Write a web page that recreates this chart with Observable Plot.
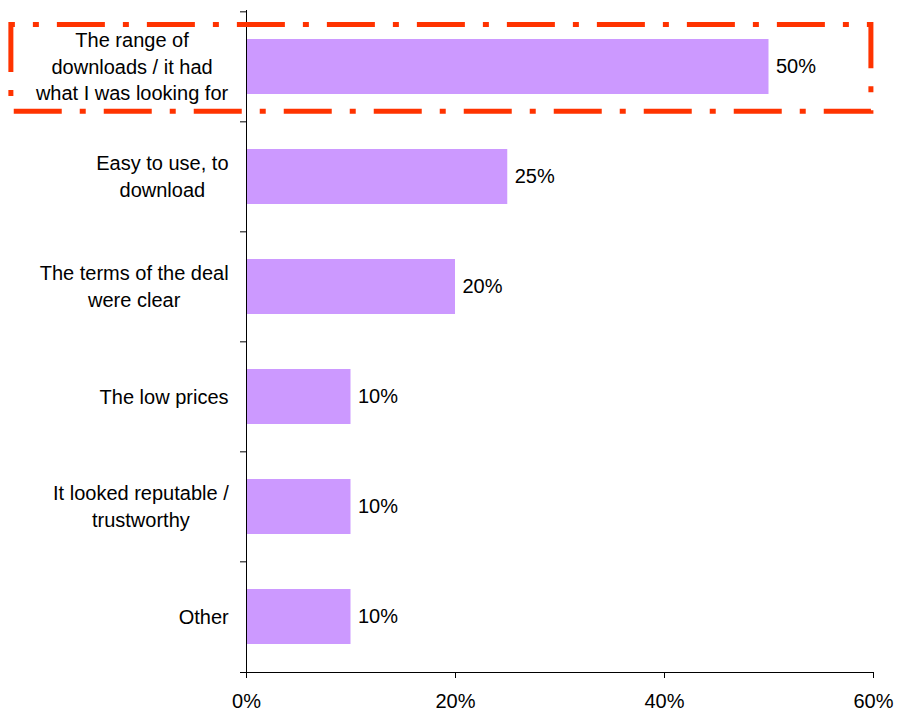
<!DOCTYPE html>
<html><head><meta charset="utf-8">
<script src="https://cdn.jsdelivr.net/npm/d3@7"></script>
<script src="https://cdn.jsdelivr.net/npm/@observablehq/plot@0.6"></script>
<style>body{margin:0;background:#fff;}</style>
</head><body><div id="chart"></div>
<script>
const categories = ["The range of downloads / it had what I was looking for", "Easy to use, to download", "The terms of the deal were clear", "The low prices", "It looked reputable / trustworthy", "Other"];
const labels = ["The range of\ndownloads / it had\nwhat I was looking for", "Easy to use, to\ndownload", "The terms of the deal\nwere clear", "The low prices", "It looked reputable /\ntrustworthy", "Other"];
const values = [50, 25, 20, 10, 10, 10];
const xTicks = [0, 20, 40, 60];
const highlightCategory = categories[0];
const highlightFrom = -22.5;
const highlightTo = 59.8;

const data = categories.map((c, i) => ({category: c, label: labels[i], value: values[i]}));
const labelOf = new Map(categories.map((c, i) => [c, labels[i]]));
const W = 897, H = 712, mT = 10, mB = 40, mL = 246, mR = 24;
const step = (H - mT - mB) / categories.length;

const plot = Plot.plot({
  width: W, height: H, marginTop: mT, marginBottom: mB, marginLeft: mL, marginRight: mR,
  style: {fontFamily: "'Liberation Sans', Arial, sans-serif", fontSize: "20px", color: "#000", background: "#fff"},
  x: {domain: [0, 60]},
  y: {domain: categories, paddingInner: 0.5, paddingOuter: 0.25},
  marks: [
    Plot.barX(data, {x: "value", y: "category", fill: "#CC99FF"}),
    Plot.text(data, {x: "value", y: "category", text: d => d.value + "%", textAnchor: "start", dx: 7, fill: "#000"}),
    Plot.frame({anchor: "left", stroke: "#000"}),
    Plot.frame({anchor: "bottom", stroke: "#000", insetLeft: -6}),
    Plot.axisY({tickSize: 0, tickPadding: 18, tickFormat: d => labelOf.get(d), lineHeight: 1.33, dy: -2, label: null, fill: "#000"}),
    Plot.axisY({tickSize: 6, tickFormat: () => "", dy: -step / 2, label: null, stroke: "#000"}),
    Plot.axisX({ticks: xTicks, tickSize: 6, tickPadding: 15, tickFormat: d => d + "%", label: null, stroke: "#000", fill: "#000"}),
    Plot.barX([highlightCategory], {y: d => d, x1: () => highlightFrom, x2: () => highlightTo, fill: "none", stroke: "#FF3300", strokeWidth: 5, strokeDasharray: "48,18,6,18", strokeDashoffset: 44, insetTop: -14.6, insetBottom: -17.2})
  ]
});
document.getElementById("chart").append(plot);
plot.querySelectorAll('g[aria-label="y-axis tick label"] text').forEach(t => {
  const b = t.getBBox();
  if (b.width === 0) return;
  const cx = b.x + b.width / 2;
  t.setAttribute("text-anchor", "middle");
  const spans = t.querySelectorAll("tspan");
  if (spans.length) spans.forEach(s => s.setAttribute("x", cx));
  else t.setAttribute("x", cx);
});
</script>
</body></html>
